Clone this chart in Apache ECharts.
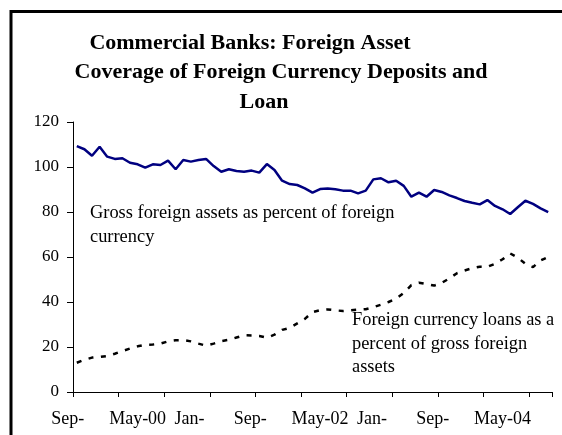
<!DOCTYPE html>
<html>
<head>
<meta charset="utf-8">
<style>
  html, body { margin: 0; padding: 0; background: #fff; }
  #chart { width: 562px; height: 435px; }
</style>
<script src="https://cdn.jsdelivr.net/npm/echarts@6/dist/echarts.min.js"></script>
</head>
<body>
<div id="chart"></div>
<script>
// Monthly observations, Sep-99 through Nov-04
const months = [
  'Sep-99','Oct-99','Nov-99','Dec-99',
  'Jan-00','Feb-00','Mar-00','Apr-00','May-00','Jun-00','Jul-00','Aug-00','Sep-00','Oct-00','Nov-00','Dec-00',
  'Jan-01','Feb-01','Mar-01','Apr-01','May-01','Jun-01','Jul-01','Aug-01','Sep-01','Oct-01','Nov-01','Dec-01',
  'Jan-02','Feb-02','Mar-02','Apr-02','May-02','Jun-02','Jul-02','Aug-02','Sep-02','Oct-02','Nov-02','Dec-02',
  'Jan-03','Feb-03','Mar-03','Apr-03','May-03','Jun-03','Jul-03','Aug-03','Sep-03','Oct-03','Nov-03','Dec-03',
  'Jan-04','Feb-04','Mar-04','Apr-04','May-04','Jun-04','Jul-04','Aug-04','Sep-04','Oct-04','Nov-04'
];

// Gross foreign assets as percent of foreign currency deposits
const grossAssets = [
  109.3, 107.9, 105.0, 109.0, 104.6, 103.6, 103.9, 101.9, 101.2, 99.7,
  101.2, 100.9, 102.8, 99.0, 103.1, 102.4, 103.1, 103.6, 100.4, 97.9,
  99.0, 98.2, 97.9, 98.4, 97.5, 101.3, 98.7, 93.9, 92.4, 92.0,
  90.5, 88.6, 90.2, 90.4, 90.1, 89.5, 89.5, 88.3, 89.5, 94.5,
  95.0, 93.2, 93.9, 91.6, 86.8, 88.6, 86.8, 89.8, 88.9, 87.4,
  86.2, 84.9, 84.1, 83.4, 85.3, 82.7, 81.2, 79.1, 82.1, 85.0,
  83.6, 81.6, 79.9
];

// Foreign currency loans as a percent of gross foreign assets
const loansShare = [
  13.0, 14.3, 15.3, 15.6, 16.0, 17.0, 18.2, 19.3, 20.3, 21.0,
  21.1, 21.5, 22.5, 23.0, 23.1, 22.5, 21.5, 20.6, 21.5, 22.6,
  23.2, 24.2, 25.2, 25.1, 24.9, 24.1, 25.5, 27.6, 28.5, 30.5,
  32.5, 35.5, 36.4, 36.7, 36.3, 36.0, 36.3, 36.6, 36.8, 37.7,
  38.8, 40.0, 41.5, 44.0, 47.5, 48.6, 48.0, 47.3, 48.5, 50.5,
  52.8, 54.0, 55.0, 55.7, 55.6, 57.0, 59.0, 61.6, 59.7, 57.0,
  55.5, 58.5, 60.0
];

// Category-axis labels as printed (every 8th month); wrapped ones lost their year line
const tickLabels = ['Sep-', 'May-00', 'Jan-', 'Sep-', 'May-02', 'Jan-', 'Sep-', 'May-04'];
const labelEvery = 8;
const tickEvery = 6;

const titleLines = [
  'Commercial Banks: Foreign Asset',
  'Coverage of Foreign Currency Deposits and',
  'Loan'
];
const grossNote = ['Gross foreign assets as percent of foreign', 'currency'];
const loansNote = ['Foreign currency loans as a', 'percent of gross foreign', 'assets'];

const serif = '"Liberation Serif", "Times New Roman", serif';

const chart = echarts.init(document.getElementById('chart'), null, { renderer: 'canvas' });

const titleCenters = [250, 281, 264];
const titleBottoms = [54, 83, 113];

const graphics = [
  {
    type: 'rect',
    shape: { x: 11, y: 11.5, width: 620, height: 520 },
    style: { fill: 'none', stroke: '#000', lineWidth: 3 },
    silent: true
  }
];
titleLines.forEach((t, i) => {
  graphics.push({
    type: 'text',
    x: titleCenters[i], y: titleBottoms[i],
    style: {
      text: t, fill: '#000', font: 'bold 22px ' + serif,
      textAlign: 'center', textVerticalAlign: 'bottom'
    }
  });
});
grossNote.forEach((t, i) => {
  graphics.push({
    type: 'text',
    x: 90, y: 222.5 + i * 23.5,
    style: { text: t, fill: '#000', font: '18.4px ' + serif, textAlign: 'left', textVerticalAlign: 'bottom' }
  });
});
loansNote.forEach((t, i) => {
  graphics.push({
    type: 'text',
    x: 352, y: 329.5 + i * 23.5,
    style: { text: t, fill: '#000', font: '18.4px ' + serif, textAlign: 'left', textVerticalAlign: 'bottom' }
  });
});

const option = {
  animation: false,
  backgroundColor: '#fff',
  grid: { left: 73, right: 10, top: 122, bottom: 43, containLabel: false },
  xAxis: {
    type: 'category',
    data: months,
    boundaryGap: true,
    axisLine: { show: true, lineStyle: { color: '#000', width: 1 } },
    axisTick: { show: true, interval: tickEvery - 1, length: 5, inside: false, lineStyle: { color: '#000' } },
    axisLabel: {
      interval: labelEvery - 1,
      margin: 18,
      color: '#000',
      fontFamily: serif,
      fontSize: 18,
      formatter: (val, idx) => {
        const t = tickLabels[Math.round(idx / labelEvery)] || '';
        return t.endsWith('-') ? '{cut|' + t + '}' : '{full|' + t + '}';
      },
      rich: {
        cut: { fontFamily: serif, fontSize: 18, color: '#000', padding: [0, 18, 0, 0] },
        full: { fontFamily: serif, fontSize: 18, color: '#000' }
      }
    },
    splitLine: { show: false }
  },
  yAxis: {
    type: 'value',
    min: 0, max: 120, interval: 20,
    axisLine: { show: true, lineStyle: { color: '#000', width: 1 } },
    axisTick: { show: true, length: 6, lineStyle: { color: '#000' } },
    axisLabel: { margin: 14, color: '#000', fontFamily: serif, fontSize: 17 },
    splitLine: { show: false }
  },
  series: [
    {
      name: 'Gross foreign assets as percent of foreign currency',
      type: 'line',
      data: grossAssets,
      symbol: 'none',
      lineStyle: { color: '#000080', width: 2.5 },
      z: 3
    },
    {
      name: 'Foreign currency loans as a percent of gross foreign assets',
      type: 'line',
      data: loansShare,
      symbol: 'none',
      lineStyle: { color: '#000', width: 2.5, type: [5, 7.5] },
      z: 3
    }
  ],
  graphic: graphics
};

chart.setOption(option);
</script>
</body>
</html>
